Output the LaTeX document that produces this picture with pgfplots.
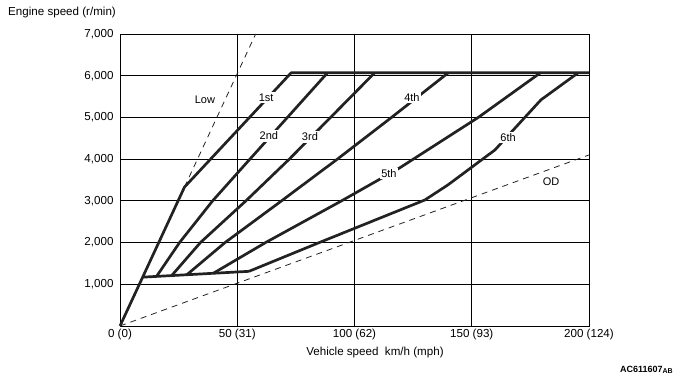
\documentclass[border=0pt]{standalone}
\usepackage{fontspec}
\setmainfont{Liberation Sans}
\usepackage{pgfplots}
\pgfplotsset{compat=1.18}
\definecolor{ink}{HTML}{222222}
\begin{document}
\begin{tikzpicture}
\begin{axis}[
  scale only axis, width=469pt, height=292pt,
  xmin=0, xmax=200, ymin=0, ymax=7000,
  xtick={0,50,100,150,200},
  xticklabels={0 (0),50 (31),100 (62),150 (93),200 (124)},
  ytick={1000,2000,3000,4000,5000,6000,7000},
  yticklabels={{1,000},{2,000},{3,000},{4,000},{5,000},{6,000},{7,000}},
  grid=major,
  major grid style={black, line width=0.8pt},
  major tick length=0pt,
  axis line style={black, line width=0.8pt},
  tick label style={font=\fontsize{11.6}{13}\selectfont, black},
  yticklabel style={xshift=-3pt},
  clip=false,
]
% gear lines
\addplot[ink, line width=2.7pt, line join=round] coordinates {(0,0) (27.5,3330) (73,6070) (200,6070)};
\addplot[ink, line width=2.7pt, line join=round] coordinates {(9.7,1170) (55,1310)};
\addplot[ink, line width=2.7pt, line join=round] coordinates {(15.6,1190) (25.4,2000) (39.5,3000) (55.4,4000) (71.4,5000) (88.5,6070)};
\addplot[ink, line width=2.7pt, line join=round] coordinates {(22,1206) (34.3,2000) (53.7,3000) (72.2,4000) (89.8,5000) (108.6,6070)};
\addplot[ink, line width=2.7pt, line join=round] coordinates {(28.4,1223) (44.8,2000) (68.9,3000) (92.7,4000) (115.8,5000) (140,6070)};
\addplot[ink, line width=2.7pt, line join=round] coordinates {(39.8,1263) (62.1,2000) (94.5,3000) (119,3780) (152.8,5000) (179.3,6070)};
\addplot[ink, line width=2.7pt, line join=round] coordinates {(55,1310) (85,2000) (130,3020) (139.8,3380) (159.9,4220) (179.5,5420) (195.4,6070)};
% dashed lines
\addplot[ink, line width=0.8pt, dash pattern=on 6pt off 5pt] coordinates {(27.5,3330) (57.85,7000)};
\addplot[ink, line width=0.8pt, dash pattern=on 6pt off 5pt] coordinates {(0,0) (200,4100)};
% labels
\begin{scope}[every node/.style={font=\fontsize{11}{12}\selectfont, text=black, inner sep=1.5pt}]
\node at (axis cs:36.2,5420) {Low};
\node[fill=white] at (axis cs:62.3,5470) {1st};
\node[fill=white] at (axis cs:63.5,4555) {2nd};
\node[fill=white] at (axis cs:81,4530) {3rd};
\node[fill=white] at (axis cs:124.5,5470) {4th};
\node[fill=white] at (axis cs:114.7,3645) {5th};
\node[fill=white] at (axis cs:165.5,4510) {6th};
\node at (axis cs:183.8,3450) {OD};
\end{scope}
\node[anchor=west, inner sep=0pt, font=\fontsize{11.6}{13}\selectfont] at (rel axis cs:-0.2388,1.0719) {Engine speed (r/min)};
\node[inner sep=0pt, font=\fontsize{11.6}{13}\selectfont] at (rel axis cs:0.5437,-0.0925) {Vehicle speed\ \ km/h (mph)};
\node[anchor=east, inner sep=0pt] at (rel axis cs:1.1791,-0.1507) {\bfseries\fontsize{9}{10}\selectfont AC611607\raisebox{-0.8pt}{\fontsize{7}{8}\selectfont AB}};
\path (rel axis cs:-0.2559,-0.1986) rectangle (rel axis cs:1.1962,1.1164);
\end{axis}
\end{tikzpicture}
\end{document}
